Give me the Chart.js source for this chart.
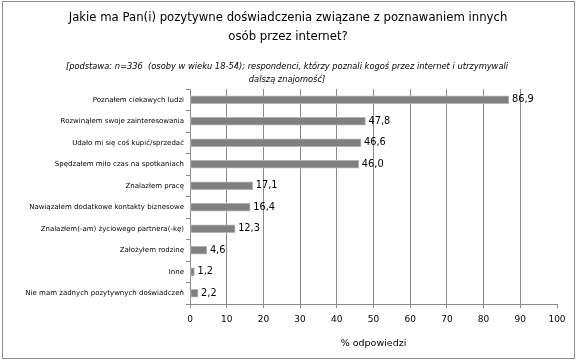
<!DOCTYPE html>
<html>
<head>
<meta charset="utf-8">
<script src="https://cdn.jsdelivr.net/npm/chart.js@4/dist/chart.umd.min.js"></script>
<style>
  html, body { margin: 0; padding: 0; background: #fff; }
  #wrap { width: 576px; height: 360px; position: relative; }
</style>
</head>
<body>
<div id="wrap"><canvas id="c" width="576" height="360"></canvas></div>
<script>
// ── dane ────────────────────────────────────────────────
const categories = [
  "Poznałem ciekawych ludzi",
  "Rozwinąłem swoje zainteresowania",
  "Udało mi się coś kupić/sprzedać",
  "Spędzałem miło czas na spotkaniach",
  "Znalazłem pracę",
  "Nawiązałem dodatkowe kontakty biznesowe",
  "Znalazłem(-am) życiowego partnera(-kę)",
  "Założyłem rodzinę",
  "Inne",
  "Nie mam żadnych pozytywnych doświadczeń",
];
const values = [86.9, 47.8, 46.6, 46.0, 17.1, 16.4, 12.3, 4.6, 1.2, 2.2];
const xTicks = [0, 10, 20, 30, 40, 50, 60, 70, 80, 90, 100];

const titleLines = [
  "Jakie ma Pan(i) pozytywne doświadczenia związane z poznawaniem innych",
  "osób przez internet?",
];
const subtitleLines = [
  "[podstawa: n=336  (osoby w wieku 18-54); respondenci, którzy poznali kogoś przez internet i utrzymywali",
  "dalszą znajomość]",
];
const axisTitle = "% odpowiedzi";

const FONT = "'DejaVu Sans', sans-serif";
const GRID = "#8a8a8a";

// ── tło, ramka, tytuł ───────────────────────────────────
const frame = {
  id: "frame",
  beforeDraw(chart) {
    const { ctx, width, height } = chart;
    ctx.save();
    ctx.fillStyle = "#fff";
    ctx.fillRect(0, 0, width, height);
    ctx.strokeStyle = "#8c8c8c";
    ctx.lineWidth = 1;
    ctx.strokeRect(2.5, 1.5, width - 4, height - 3);

    ctx.fillStyle = "#000";
    ctx.textAlign = "center";
    ctx.textBaseline = "middle";
    ctx.font = `11.7px ${FONT}`;
    titleLines.forEach((t, i) => ctx.fillText(t, 288, 18 + i * 19));
    ctx.font = `italic 8.3px ${FONT}`;
    subtitleLines.forEach((t, i) => ctx.fillText(t, 287, 67 + i * 13));
    ctx.restore();
  },
};

// ── etykiety wartości ───────────────────────────────────
const valueLabels = {
  id: "valueLabels",
  afterDatasetsDraw(chart) {
    const { ctx } = chart;
    const meta = chart.getDatasetMeta(0);
    ctx.save();
    ctx.fillStyle = "#000";
    ctx.font = `9.8px ${FONT}`;
    ctx.textAlign = "left";
    ctx.textBaseline = "middle";
    meta.data.forEach((bar, i) => {
      ctx.fillText(values[i].toFixed(1).replace(".", ","), bar.x + 3, bar.y);
    });
    ctx.restore();
  },
};

new Chart(document.getElementById("c"), {
  type: "bar",
  data: {
    labels: categories,
    datasets: [{
      data: values,
      backgroundColor: "#808080",
      borderColor: "#b4b4b4",
      borderWidth: 1,
      borderSkipped: false,
      barThickness: 8,
    }],
  },
  options: {
    indexAxis: "y",
    responsive: false,
    animation: false,
    layout: { padding: { top: 89, right: 19, bottom: 0, left: 0 } },
    plugins: {
      legend: { display: false },
      tooltip: { enabled: false },
      title: { display: false },
    },
    scales: {
      x: {
        min: 0,
        max: 100,
        afterFit(scale) { scale.height = 56; },
        afterBuildTicks(scale) { scale.ticks = xTicks.map(v => ({ value: v })); },
        ticks: { color: "#000", font: { family: FONT, size: 9 }, padding: 6, maxRotation: 0 },
        grid: {
          color: ctx => (ctx.tick && ctx.tick.value === 100 ? "rgba(0,0,0,0)" : GRID),
          tickColor: GRID,
          tickLength: 4,
          lineWidth: 1,
        },
        border: { color: GRID },
        title: {
          display: true,
          text: axisTitle,
          color: "#000",
          font: { family: FONT, size: 9.5 },
          padding: { top: 0, bottom: 11 },
        },
      },
      y: {
        afterFit(scale) { scale.width = 190; },
        ticks: { color: "#000", font: { family: FONT, size: 7 }, padding: 2, autoSkip: false },
        grid: {
          drawOnChartArea: false,
          offset: true,
          tickColor: GRID,
          tickLength: 4,
        },
        border: { color: GRID },
      },
    },
  },
  plugins: [frame, valueLabels],
});
</script>
</body>
</html>
